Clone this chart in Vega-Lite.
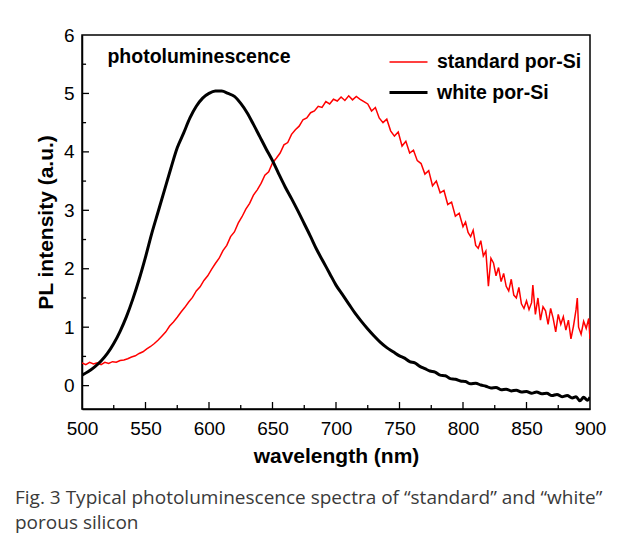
{
  "$schema": "https://vega.github.io/schema/vega-lite/v6.json",
  "autosize": "none",
  "width": 508,
  "height": 374,
  "padding": {"left": 82, "top": 35, "right": 33, "bottom": 129},
  "background": "white",
  "config": {
    "view": {"stroke": "black", "strokeWidth": 1.5},
    "font": "Liberation Sans",
    "axis": {
      "grid": false,
      "ticks": false,
      "labelFlush": false,
      "domainColor": "black", "domainWidth": 1.5,
      "labelFontSize": 19, "labelColor": "black", "labelFont": "Liberation Sans",
      "titleFontSize": 21, "titleFontWeight": "bold", "titleColor": "black", "titleFont": "Liberation Sans"
    },
    "legend": {
      "title": null, "orient": "none", "legendX": 306, "legendY": 7,
      "symbolType": "stroke", "symbolSize": 1444,
      "labelFontSize": 19.5, "labelFontWeight": "bold", "labelColor": "black",
      "labelFont": "Liberation Sans", "rowPadding": -6, "labelOffset": 8
    }
  },
  "title": {
    "text": ["Fig. 3 Typical photoluminescence spectra of “standard” and “white”", "porous silicon"],
    "orient": "bottom",
    "anchor": "start",
    "frame": "group",
    "dx": -67,
    "offset": 23,
    "font": "Open Sans",
    "fontSize": 19,
    "fontWeight": "normal",
    "color": "#3a3a3a",
    "lineHeight": 25
  },
  "datasets": {
    "xticks": [
      {"wavelength": 525, "kind": "minor"},
      {"wavelength": 550, "kind": "major"},
      {"wavelength": 575, "kind": "minor"},
      {"wavelength": 600, "kind": "major"},
      {"wavelength": 625, "kind": "minor"},
      {"wavelength": 650, "kind": "major"},
      {"wavelength": 675, "kind": "minor"},
      {"wavelength": 700, "kind": "major"},
      {"wavelength": 725, "kind": "minor"},
      {"wavelength": 750, "kind": "major"},
      {"wavelength": 775, "kind": "minor"},
      {"wavelength": 800, "kind": "major"},
      {"wavelength": 825, "kind": "minor"},
      {"wavelength": 850, "kind": "major"},
      {"wavelength": 875, "kind": "minor"}
    ],
    "yticks": [
      {"intensity": 0, "kind": "major"},
      {"intensity": 0.5, "kind": "minor"},
      {"intensity": 1, "kind": "major"},
      {"intensity": 1.5, "kind": "minor"},
      {"intensity": 2, "kind": "major"},
      {"intensity": 2.5, "kind": "minor"},
      {"intensity": 3, "kind": "major"},
      {"intensity": 3.5, "kind": "minor"},
      {"intensity": 4, "kind": "major"},
      {"intensity": 4.5, "kind": "minor"},
      {"intensity": 5, "kind": "major"},
      {"intensity": 5.5, "kind": "minor"}
    ],
    "spectra": [
    {"wavelength": 500, "intensity": 0.39, "series": "standard por-Si"},
    {"wavelength": 503, "intensity": 0.36, "series": "standard por-Si"},
    {"wavelength": 506, "intensity": 0.40, "series": "standard por-Si"},
    {"wavelength": 509, "intensity": 0.37, "series": "standard por-Si"},
    {"wavelength": 512, "intensity": 0.39, "series": "standard por-Si"},
    {"wavelength": 515, "intensity": 0.36, "series": "standard por-Si"},
    {"wavelength": 518, "intensity": 0.40, "series": "standard por-Si"},
    {"wavelength": 521, "intensity": 0.38, "series": "standard por-Si"},
    {"wavelength": 524, "intensity": 0.41, "series": "standard por-Si"},
    {"wavelength": 527, "intensity": 0.40, "series": "standard por-Si"},
    {"wavelength": 530, "intensity": 0.43, "series": "standard por-Si"},
    {"wavelength": 533, "intensity": 0.44, "series": "standard por-Si"},
    {"wavelength": 536, "intensity": 0.46, "series": "standard por-Si"},
    {"wavelength": 539, "intensity": 0.49, "series": "standard por-Si"},
    {"wavelength": 542, "intensity": 0.51, "series": "standard por-Si"},
    {"wavelength": 545, "intensity": 0.55, "series": "standard por-Si"},
    {"wavelength": 548, "intensity": 0.58, "series": "standard por-Si"},
    {"wavelength": 551, "intensity": 0.63, "series": "standard por-Si"},
    {"wavelength": 554, "intensity": 0.67, "series": "standard por-Si"},
    {"wavelength": 557, "intensity": 0.72, "series": "standard por-Si"},
    {"wavelength": 560, "intensity": 0.78, "series": "standard por-Si"},
    {"wavelength": 563, "intensity": 0.85, "series": "standard por-Si"},
    {"wavelength": 566, "intensity": 0.92, "series": "standard por-Si"},
    {"wavelength": 569, "intensity": 1.02, "series": "standard por-Si"},
    {"wavelength": 572, "intensity": 1.09, "series": "standard por-Si"},
    {"wavelength": 575, "intensity": 1.17, "series": "standard por-Si"},
    {"wavelength": 578, "intensity": 1.26, "series": "standard por-Si"},
    {"wavelength": 581, "intensity": 1.34, "series": "standard por-Si"},
    {"wavelength": 584, "intensity": 1.43, "series": "standard por-Si"},
    {"wavelength": 587, "intensity": 1.51, "series": "standard por-Si"},
    {"wavelength": 590, "intensity": 1.62, "series": "standard por-Si"},
    {"wavelength": 593, "intensity": 1.69, "series": "standard por-Si"},
    {"wavelength": 596, "intensity": 1.80, "series": "standard por-Si"},
    {"wavelength": 599, "intensity": 1.88, "series": "standard por-Si"},
    {"wavelength": 602, "intensity": 1.99, "series": "standard por-Si"},
    {"wavelength": 605, "intensity": 2.09, "series": "standard por-Si"},
    {"wavelength": 608, "intensity": 2.18, "series": "standard por-Si"},
    {"wavelength": 611, "intensity": 2.31, "series": "standard por-Si"},
    {"wavelength": 614, "intensity": 2.40, "series": "standard por-Si"},
    {"wavelength": 617, "intensity": 2.55, "series": "standard por-Si"},
    {"wavelength": 620, "intensity": 2.63, "series": "standard por-Si"},
    {"wavelength": 623, "intensity": 2.78, "series": "standard por-Si"},
    {"wavelength": 626, "intensity": 2.89, "series": "standard por-Si"},
    {"wavelength": 629, "intensity": 3.02, "series": "standard por-Si"},
    {"wavelength": 632, "intensity": 3.12, "series": "standard por-Si"},
    {"wavelength": 635, "intensity": 3.26, "series": "standard por-Si"},
    {"wavelength": 638, "intensity": 3.35, "series": "standard por-Si"},
    {"wavelength": 641, "intensity": 3.46, "series": "standard por-Si"},
    {"wavelength": 644, "intensity": 3.60, "series": "standard por-Si"},
    {"wavelength": 647, "intensity": 3.66, "series": "standard por-Si"},
    {"wavelength": 650, "intensity": 3.81, "series": "standard por-Si"},
    {"wavelength": 653, "intensity": 3.89, "series": "standard por-Si"},
    {"wavelength": 656, "intensity": 3.98, "series": "standard por-Si"},
    {"wavelength": 659, "intensity": 4.12, "series": "standard por-Si"},
    {"wavelength": 662, "intensity": 4.16, "series": "standard por-Si"},
    {"wavelength": 665, "intensity": 4.30, "series": "standard por-Si"},
    {"wavelength": 668, "intensity": 4.38, "series": "standard por-Si"},
    {"wavelength": 671, "intensity": 4.44, "series": "standard por-Si"},
    {"wavelength": 674, "intensity": 4.55, "series": "standard por-Si"},
    {"wavelength": 677, "intensity": 4.58, "series": "standard por-Si"},
    {"wavelength": 680, "intensity": 4.67, "series": "standard por-Si"},
    {"wavelength": 683, "intensity": 4.70, "series": "standard por-Si"},
    {"wavelength": 686, "intensity": 4.78, "series": "standard por-Si"},
    {"wavelength": 689, "intensity": 4.76, "series": "standard por-Si"},
    {"wavelength": 692, "intensity": 4.86, "series": "standard por-Si"},
    {"wavelength": 695, "intensity": 4.82, "series": "standard por-Si"},
    {"wavelength": 698, "intensity": 4.90, "series": "standard por-Si"},
    {"wavelength": 701, "intensity": 4.87, "series": "standard por-Si"},
    {"wavelength": 704, "intensity": 4.94, "series": "standard por-Si"},
    {"wavelength": 707, "intensity": 4.88, "series": "standard por-Si"},
    {"wavelength": 710, "intensity": 4.96, "series": "standard por-Si"},
    {"wavelength": 713, "intensity": 4.89, "series": "standard por-Si"},
    {"wavelength": 716, "intensity": 4.95, "series": "standard por-Si"},
    {"wavelength": 719, "intensity": 4.90, "series": "standard por-Si"},
    {"wavelength": 722, "intensity": 4.86, "series": "standard por-Si"},
    {"wavelength": 725, "intensity": 4.82, "series": "standard por-Si"},
    {"wavelength": 728, "intensity": 4.70, "series": "standard por-Si"},
    {"wavelength": 731, "intensity": 4.76, "series": "standard por-Si"},
    {"wavelength": 734, "intensity": 4.58, "series": "standard por-Si"},
    {"wavelength": 737, "intensity": 4.50, "series": "standard por-Si"},
    {"wavelength": 740, "intensity": 4.56, "series": "standard por-Si"},
    {"wavelength": 743, "intensity": 4.36, "series": "standard por-Si"},
    {"wavelength": 746, "intensity": 4.27, "series": "standard por-Si"},
    {"wavelength": 749, "intensity": 4.34, "series": "standard por-Si"},
    {"wavelength": 752, "intensity": 4.10, "series": "standard por-Si"},
    {"wavelength": 755, "intensity": 4.18, "series": "standard por-Si"},
    {"wavelength": 758, "intensity": 3.98, "series": "standard por-Si"},
    {"wavelength": 761, "intensity": 4.03, "series": "standard por-Si"},
    {"wavelength": 764, "intensity": 3.85, "series": "standard por-Si"},
    {"wavelength": 767, "intensity": 3.80, "series": "standard por-Si"},
    {"wavelength": 770, "intensity": 3.62, "series": "standard por-Si"},
    {"wavelength": 773, "intensity": 3.68, "series": "standard por-Si"},
    {"wavelength": 776, "intensity": 3.42, "series": "standard por-Si"},
    {"wavelength": 779, "intensity": 3.50, "series": "standard por-Si"},
    {"wavelength": 782, "intensity": 3.30, "series": "standard por-Si"},
    {"wavelength": 785, "intensity": 3.34, "series": "standard por-Si"},
    {"wavelength": 788, "intensity": 3.10, "series": "standard por-Si"},
    {"wavelength": 791, "intensity": 3.14, "series": "standard por-Si"},
    {"wavelength": 794, "intensity": 2.90, "series": "standard por-Si"},
    {"wavelength": 797, "intensity": 2.95, "series": "standard por-Si"},
    {"wavelength": 800, "intensity": 2.72, "series": "standard por-Si"},
    {"wavelength": 802, "intensity": 2.80, "series": "standard por-Si"},
    {"wavelength": 804, "intensity": 2.62, "series": "standard por-Si"},
    {"wavelength": 806, "intensity": 2.55, "series": "standard por-Si"},
    {"wavelength": 808, "intensity": 2.66, "series": "standard por-Si"},
    {"wavelength": 810, "intensity": 2.40, "series": "standard por-Si"},
    {"wavelength": 812, "intensity": 2.35, "series": "standard por-Si"},
    {"wavelength": 814, "intensity": 2.48, "series": "standard por-Si"},
    {"wavelength": 816, "intensity": 2.22, "series": "standard por-Si"},
    {"wavelength": 818, "intensity": 2.30, "series": "standard por-Si"},
    {"wavelength": 820, "intensity": 1.70, "series": "standard por-Si"},
    {"wavelength": 822, "intensity": 2.18, "series": "standard por-Si"},
    {"wavelength": 824, "intensity": 2.10, "series": "standard por-Si"},
    {"wavelength": 826, "intensity": 1.88, "series": "standard por-Si"},
    {"wavelength": 828, "intensity": 2.02, "series": "standard por-Si"},
    {"wavelength": 830, "intensity": 1.78, "series": "standard por-Si"},
    {"wavelength": 832, "intensity": 1.92, "series": "standard por-Si"},
    {"wavelength": 834, "intensity": 1.70, "series": "standard por-Si"},
    {"wavelength": 836, "intensity": 1.62, "series": "standard por-Si"},
    {"wavelength": 838, "intensity": 1.82, "series": "standard por-Si"},
    {"wavelength": 840, "intensity": 1.55, "series": "standard por-Si"},
    {"wavelength": 842, "intensity": 1.50, "series": "standard por-Si"},
    {"wavelength": 844, "intensity": 1.68, "series": "standard por-Si"},
    {"wavelength": 846, "intensity": 1.40, "series": "standard por-Si"},
    {"wavelength": 848, "intensity": 1.32, "series": "standard por-Si"},
    {"wavelength": 850, "intensity": 1.45, "series": "standard por-Si"},
    {"wavelength": 852, "intensity": 1.30, "series": "standard por-Si"},
    {"wavelength": 854, "intensity": 1.42, "series": "standard por-Si"},
    {"wavelength": 855, "intensity": 1.72, "series": "standard por-Si"},
    {"wavelength": 857, "intensity": 1.22, "series": "standard por-Si"},
    {"wavelength": 859, "intensity": 1.50, "series": "standard por-Si"},
    {"wavelength": 861, "intensity": 1.12, "series": "standard por-Si"},
    {"wavelength": 863, "intensity": 1.35, "series": "standard por-Si"},
    {"wavelength": 865, "intensity": 1.28, "series": "standard por-Si"},
    {"wavelength": 867, "intensity": 1.05, "series": "standard por-Si"},
    {"wavelength": 869, "intensity": 1.32, "series": "standard por-Si"},
    {"wavelength": 871, "intensity": 1.15, "series": "standard por-Si"},
    {"wavelength": 873, "intensity": 0.92, "series": "standard por-Si"},
    {"wavelength": 875, "intensity": 1.22, "series": "standard por-Si"},
    {"wavelength": 877, "intensity": 1.05, "series": "standard por-Si"},
    {"wavelength": 879, "intensity": 1.18, "series": "standard por-Si"},
    {"wavelength": 881, "intensity": 0.95, "series": "standard por-Si"},
    {"wavelength": 883, "intensity": 1.12, "series": "standard por-Si"},
    {"wavelength": 885, "intensity": 0.80, "series": "standard por-Si"},
    {"wavelength": 887, "intensity": 1.02, "series": "standard por-Si"},
    {"wavelength": 889, "intensity": 1.30, "series": "standard por-Si"},
    {"wavelength": 890, "intensity": 1.50, "series": "standard por-Si"},
    {"wavelength": 891, "intensity": 1.00, "series": "standard por-Si"},
    {"wavelength": 893, "intensity": 0.88, "series": "standard por-Si"},
    {"wavelength": 895, "intensity": 1.10, "series": "standard por-Si"},
    {"wavelength": 897, "intensity": 0.98, "series": "standard por-Si"},
    {"wavelength": 899, "intensity": 1.15, "series": "standard por-Si"},
    {"wavelength": 900, "intensity": 0.80, "series": "standard por-Si"},
    {"wavelength": 500, "intensity": 0.18, "series": "white por-Si"},
    {"wavelength": 505, "intensity": 0.24, "series": "white por-Si"},
    {"wavelength": 510, "intensity": 0.32, "series": "white por-Si"},
    {"wavelength": 515, "intensity": 0.42, "series": "white por-Si"},
    {"wavelength": 520, "intensity": 0.55, "series": "white por-Si"},
    {"wavelength": 525, "intensity": 0.72, "series": "white por-Si"},
    {"wavelength": 530, "intensity": 0.93, "series": "white por-Si"},
    {"wavelength": 535, "intensity": 1.18, "series": "white por-Si"},
    {"wavelength": 540, "intensity": 1.48, "series": "white por-Si"},
    {"wavelength": 545, "intensity": 1.82, "series": "white por-Si"},
    {"wavelength": 550, "intensity": 2.20, "series": "white por-Si"},
    {"wavelength": 555, "intensity": 2.61, "series": "white por-Si"},
    {"wavelength": 560, "intensity": 2.98, "series": "white por-Si"},
    {"wavelength": 565, "intensity": 3.35, "series": "white por-Si"},
    {"wavelength": 570, "intensity": 3.72, "series": "white por-Si"},
    {"wavelength": 575, "intensity": 4.07, "series": "white por-Si"},
    {"wavelength": 580, "intensity": 4.32, "series": "white por-Si"},
    {"wavelength": 585, "intensity": 4.58, "series": "white por-Si"},
    {"wavelength": 590, "intensity": 4.78, "series": "white por-Si"},
    {"wavelength": 595, "intensity": 4.92, "series": "white por-Si"},
    {"wavelength": 600, "intensity": 5.00, "series": "white por-Si"},
    {"wavelength": 605, "intensity": 5.04, "series": "white por-Si"},
    {"wavelength": 610, "intensity": 5.04, "series": "white por-Si"},
    {"wavelength": 615, "intensity": 5.00, "series": "white por-Si"},
    {"wavelength": 620, "intensity": 4.95, "series": "white por-Si"},
    {"wavelength": 625, "intensity": 4.83, "series": "white por-Si"},
    {"wavelength": 630, "intensity": 4.67, "series": "white por-Si"},
    {"wavelength": 635, "intensity": 4.47, "series": "white por-Si"},
    {"wavelength": 640, "intensity": 4.26, "series": "white por-Si"},
    {"wavelength": 645, "intensity": 4.05, "series": "white por-Si"},
    {"wavelength": 650, "intensity": 3.85, "series": "white por-Si"},
    {"wavelength": 655, "intensity": 3.62, "series": "white por-Si"},
    {"wavelength": 660, "intensity": 3.40, "series": "white por-Si"},
    {"wavelength": 665, "intensity": 3.20, "series": "white por-Si"},
    {"wavelength": 670, "intensity": 2.99, "series": "white por-Si"},
    {"wavelength": 675, "intensity": 2.77, "series": "white por-Si"},
    {"wavelength": 680, "intensity": 2.55, "series": "white por-Si"},
    {"wavelength": 685, "intensity": 2.32, "series": "white por-Si"},
    {"wavelength": 690, "intensity": 2.12, "series": "white por-Si"},
    {"wavelength": 695, "intensity": 1.92, "series": "white por-Si"},
    {"wavelength": 700, "intensity": 1.72, "series": "white por-Si"},
    {"wavelength": 705, "intensity": 1.56, "series": "white por-Si"},
    {"wavelength": 710, "intensity": 1.40, "series": "white por-Si"},
    {"wavelength": 715, "intensity": 1.24, "series": "white por-Si"},
    {"wavelength": 720, "intensity": 1.10, "series": "white por-Si"},
    {"wavelength": 725, "intensity": 0.97, "series": "white por-Si"},
    {"wavelength": 730, "intensity": 0.85, "series": "white por-Si"},
    {"wavelength": 735, "intensity": 0.74, "series": "white por-Si"},
    {"wavelength": 740, "intensity": 0.65, "series": "white por-Si"},
    {"wavelength": 745, "intensity": 0.58, "series": "white por-Si"},
    {"wavelength": 750, "intensity": 0.51, "series": "white por-Si"},
    {"wavelength": 754, "intensity": 0.47, "series": "white por-Si"},
    {"wavelength": 758, "intensity": 0.41, "series": "white por-Si"},
    {"wavelength": 762, "intensity": 0.39, "series": "white por-Si"},
    {"wavelength": 766, "intensity": 0.33, "series": "white por-Si"},
    {"wavelength": 770, "intensity": 0.29, "series": "white por-Si"},
    {"wavelength": 774, "intensity": 0.25, "series": "white por-Si"},
    {"wavelength": 778, "intensity": 0.23, "series": "white por-Si"},
    {"wavelength": 782, "intensity": 0.18, "series": "white por-Si"},
    {"wavelength": 786, "intensity": 0.17, "series": "white por-Si"},
    {"wavelength": 790, "intensity": 0.12, "series": "white por-Si"},
    {"wavelength": 794, "intensity": 0.11, "series": "white por-Si"},
    {"wavelength": 798, "intensity": 0.08, "series": "white por-Si"},
    {"wavelength": 802, "intensity": 0.07, "series": "white por-Si"},
    {"wavelength": 806, "intensity": 0.03, "series": "white por-Si"},
    {"wavelength": 810, "intensity": 0.04, "series": "white por-Si"},
    {"wavelength": 814, "intensity": 0.01, "series": "white por-Si"},
    {"wavelength": 818, "intensity": -0.01, "series": "white por-Si"},
    {"wavelength": 822, "intensity": -0.04, "series": "white por-Si"},
    {"wavelength": 826, "intensity": -0.03, "series": "white por-Si"},
    {"wavelength": 830, "intensity": -0.07, "series": "white por-Si"},
    {"wavelength": 834, "intensity": -0.06, "series": "white por-Si"},
    {"wavelength": 838, "intensity": -0.09, "series": "white por-Si"},
    {"wavelength": 842, "intensity": -0.08, "series": "white por-Si"},
    {"wavelength": 846, "intensity": -0.11, "series": "white por-Si"},
    {"wavelength": 850, "intensity": -0.10, "series": "white por-Si"},
    {"wavelength": 854, "intensity": -0.13, "series": "white por-Si"},
    {"wavelength": 858, "intensity": -0.11, "series": "white por-Si"},
    {"wavelength": 862, "intensity": -0.14, "series": "white por-Si"},
    {"wavelength": 866, "intensity": -0.13, "series": "white por-Si"},
    {"wavelength": 870, "intensity": -0.17, "series": "white por-Si"},
    {"wavelength": 874, "intensity": -0.15, "series": "white por-Si"},
    {"wavelength": 878, "intensity": -0.19, "series": "white por-Si"},
    {"wavelength": 882, "intensity": -0.17, "series": "white por-Si"},
    {"wavelength": 886, "intensity": -0.21, "series": "white por-Si"},
    {"wavelength": 889, "intensity": -0.19, "series": "white por-Si"},
    {"wavelength": 892, "intensity": -0.26, "series": "white por-Si"},
    {"wavelength": 895, "intensity": -0.20, "series": "white por-Si"},
    {"wavelength": 898, "intensity": -0.25, "series": "white por-Si"},
    {"wavelength": 900, "intensity": -0.20, "series": "white por-Si"}
    ]
  },
  "layer": [
    {
      "data": {"name": "spectra"},
      "transform": [{"filter": "datum.series === 'standard por-Si'"}],
      "mark": {"type": "line", "clip": true, "interpolate": "linear"},
      "encoding": {
        "x": {
          "field": "wavelength", "type": "quantitative",
          "scale": {"domain": [500, 900], "nice": false, "zero": false},
          "axis": {
            "title": "wavelength (nm)",
            "tickCount": 8,
            "format": "d",
            "labelPadding": 10,
            "titlePadding": 7
          }
        },
        "y": {
          "field": "intensity", "type": "quantitative",
          "scale": {"domain": [-0.4, 6], "nice": false, "zero": false},
          "axis": {
            "title": "PL intensity (a.u.)",
            "tickCount": 6,
            "format": "d",
            "labelPadding": 8,
            "titlePadding": 7
          }
        },
        "color": {
          "field": "series", "type": "nominal",
          "scale": {"domain": ["standard por-Si", "white por-Si"], "range": ["#ff0000", "#000000"]}
        },
        "strokeWidth": {
          "field": "series", "type": "nominal",
          "scale": {"domain": ["standard por-Si", "white por-Si"], "range": [1.5, 3]}
        }
      }
    },
    {
      "data": {"name": "spectra"},
      "transform": [{"filter": "datum.series === 'white por-Si'"}],
      "mark": {"type": "line", "clip": true, "interpolate": "monotone"},
      "encoding": {
        "x": {"field": "wavelength", "type": "quantitative"},
        "y": {"field": "intensity", "type": "quantitative"},
        "color": {"field": "series", "type": "nominal"},
        "strokeWidth": {"field": "series", "type": "nominal"}
      }
    },
    {
      "data": {"name": "xticks"},
      "transform": [{"filter": "datum.kind === 'major'"}],
      "mark": {"type": "rule", "color": "black", "strokeWidth": 1.3},
      "encoding": {
        "x": {"field": "wavelength", "type": "quantitative"},
        "y": {"datum": -0.4, "type": "quantitative"},
        "y2": {"datum": -0.28}
      }
    },
    {
      "data": {"name": "xticks"},
      "transform": [{"filter": "datum.kind === 'minor'"}],
      "mark": {"type": "rule", "color": "black", "strokeWidth": 1.3},
      "encoding": {
        "x": {"field": "wavelength", "type": "quantitative"},
        "y": {"datum": -0.4, "type": "quantitative"},
        "y2": {"datum": -0.33}
      }
    },
    {
      "data": {"name": "yticks"},
      "transform": [{"filter": "datum.kind === 'major'"}],
      "mark": {"type": "rule", "color": "black", "strokeWidth": 1.3},
      "encoding": {
        "y": {"field": "intensity", "type": "quantitative"},
        "x": {"datum": 500, "type": "quantitative"},
        "x2": {"datum": 505.5}
      }
    },
    {
      "data": {"name": "yticks"},
      "transform": [{"filter": "datum.kind === 'minor'"}],
      "mark": {"type": "rule", "color": "black", "strokeWidth": 1.3},
      "encoding": {
        "y": {"field": "intensity", "type": "quantitative"},
        "x": {"datum": 500, "type": "quantitative"},
        "x2": {"datum": 503.2}
      }
    },
    {
      "data": {"values": [{"label": "photoluminescence", "wavelength": 520, "intensity": 5.63}]},
      "mark": {"type": "text", "align": "left", "baseline": "middle", "fontSize": 19.5, "fontWeight": "bold", "font": "Liberation Sans", "color": "black"},
      "encoding": {
        "x": {"field": "wavelength", "type": "quantitative"},
        "y": {"field": "intensity", "type": "quantitative"},
        "text": {"field": "label"}
      }
    }
  ]
}
